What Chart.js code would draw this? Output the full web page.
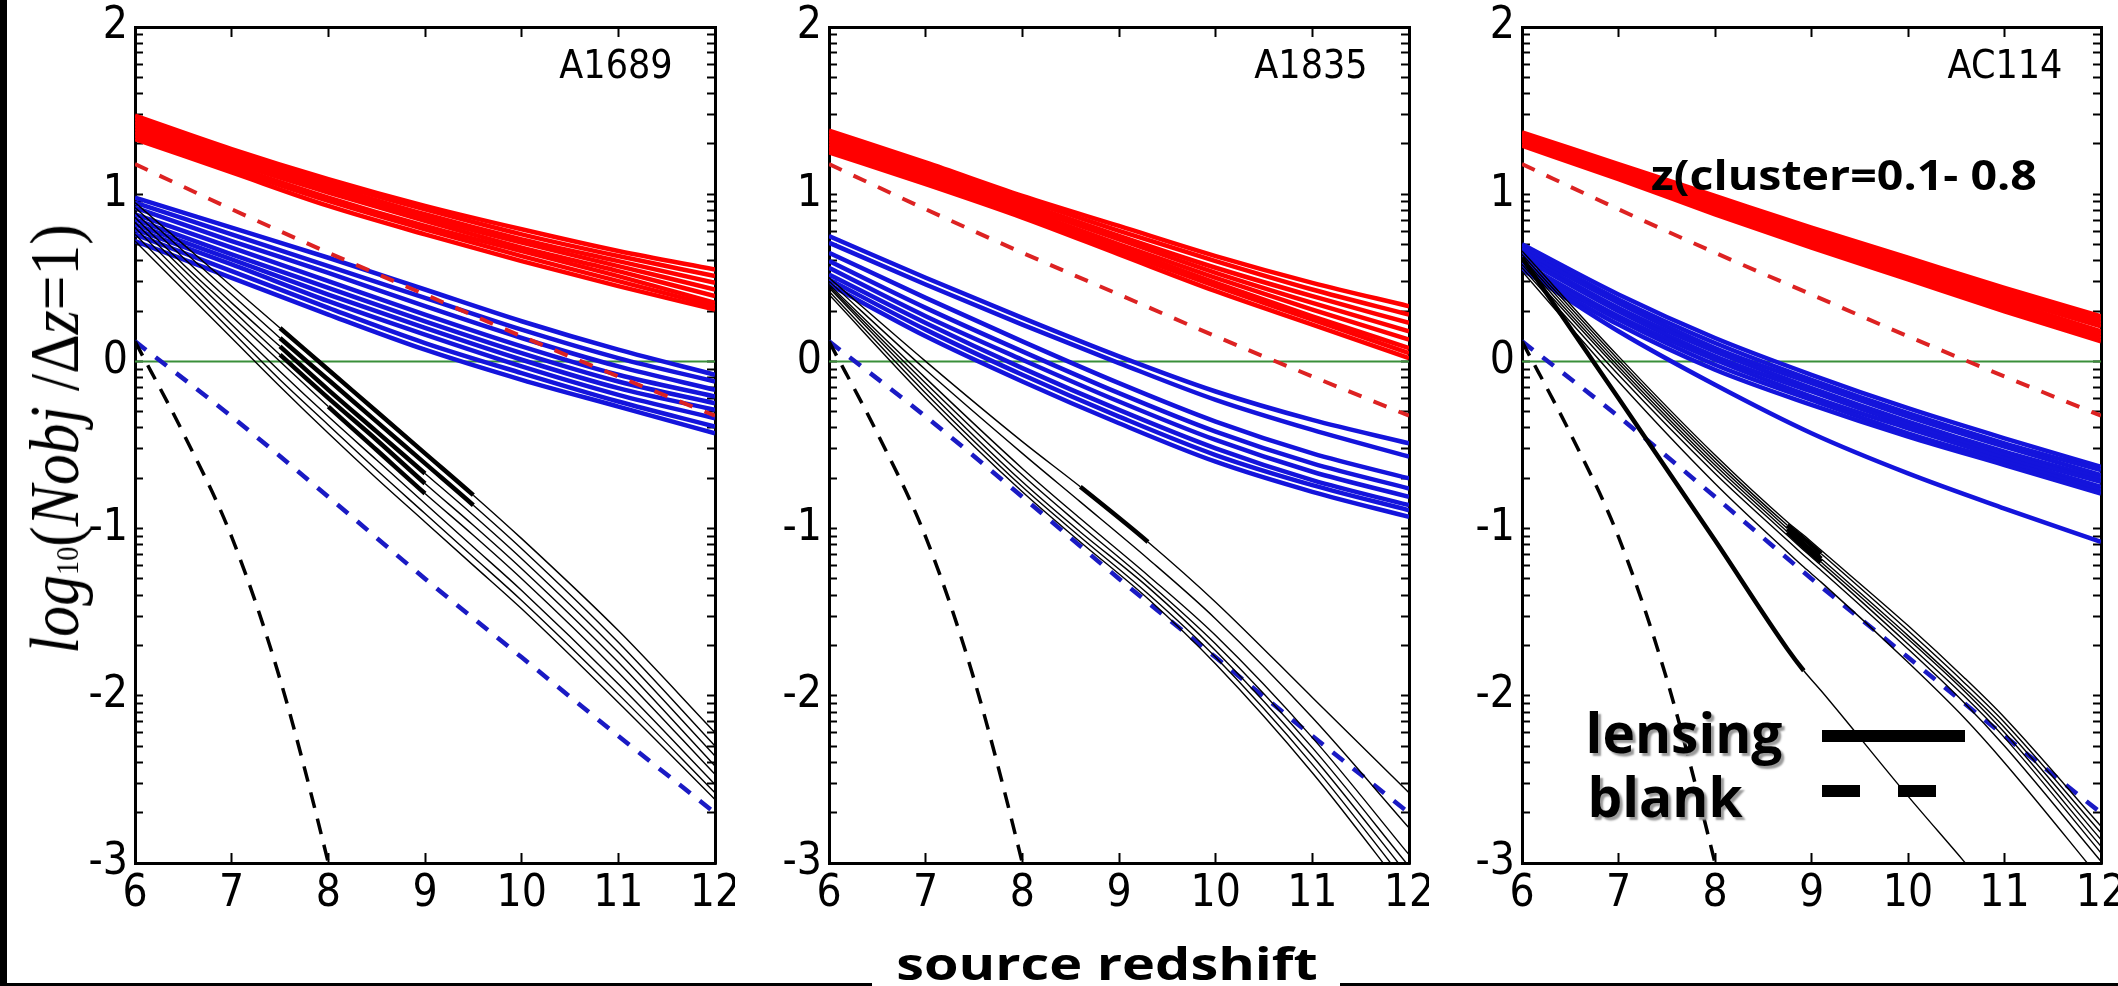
<!DOCTYPE html>
<html><head><meta charset="utf-8">
<script src="https://cdn.jsdelivr.net/npm/chart.js@4.4.1/dist/chart.umd.min.js"></script>
<style>
html,body{margin:0;padding:0;background:#fff;}
#wrap{position:relative;width:2118px;height:986px;overflow:hidden;background:#fff;}
#wrap canvas{position:absolute;top:0;z-index:1;}
.lbl{position:absolute;white-space:nowrap;line-height:1;color:#000;z-index:3;}
.narrow{font-family:'Liberation Sans Narrow','Arial Narrow','DejaVu Sans Condensed','Liberation Sans',sans-serif;}
.bold{font-family:'Open Sans','Noto Sans',sans-serif;font-weight:700;}
.blk{position:absolute;background:#000;z-index:3;}
</style></head>
<body>
<div id="wrap">
  <div class="blk" style="left:0;top:0;width:7px;height:986px"></div>
  <div class="blk" style="left:0;top:983px;width:872px;height:3px"></div>
  <div class="blk" style="left:1340px;top:983px;width:778px;height:3px"></div>

  <div class="lbl" id="ytitle" style="font-family:'Liberation Serif','DejaVu Serif',serif;font-size:70px;left:55px;top:439px;transform:translate(-50%,-50%) rotate(-90deg) scaleX(0.88);"><i>log</i><span style="font-size:0.46em">10</span>(<i>Nobj</i> /Δ<i>z</i>=1)</div>

  <div class="lbl narrow" style="font-size:39px;left:616px;top:64px;transform:translate(-50%,-50%)">A1689</div>
  <div class="lbl narrow" style="font-size:39px;left:1311px;top:64px;transform:translate(-50%,-50%)">A1835</div>
  <div class="lbl narrow" style="font-size:39px;left:2005px;top:64px;transform:translate(-50%,-50%)">AC114</div>

  <div class="lbl bold" style="font-size:41px;left:1844px;top:174px;transform:translate(-50%,-50%) scaleX(1.135)">z(cluster=0.1- 0.8</div>

  <div class="lbl bold" style="font-size:55px;left:1684px;top:731px;transform:translate(-50%,-50%);text-shadow:3px 3px 2px #9a9a9a">lensing</div>
  <div class="lbl bold" style="font-size:55px;left:1665px;top:795px;transform:translate(-50%,-50%);text-shadow:3px 3px 2px #9a9a9a">blank</div>
  <div class="blk" style="left:1822px;top:730px;width:143px;height:12px"></div>
  <div class="blk" style="left:1822px;top:785px;width:38px;height:12px"></div>
  <div class="blk" style="left:1898px;top:785px;width:38px;height:12px"></div>

  <div class="lbl bold" style="font-size:45px;left:1107px;top:962px;transform:translate(-50%,-50%) scaleX(1.24)">source redshift</div>
</div>
<script>
// ---------- axis ticks ----------
const xTicks = [6, 7, 8, 9, 10, 11, 12];
const xTickLabels = ['6', '7', '8', '9', '10', '11', '12'];
const yMajor = [-3, -2, -1, 0, 1, 2];
const yTickLabels = ['-3', '-2', '-1', '0', '1', '2'];
const yMinorFactors = [2, 3, 4, 5, 6, 7, 8, 9];

// ---------- blank field (same in every panel) ----------
const zGrid = [6, 7, 8, 9, 10, 11, 12];
const blankRed = [1.18, 0.91, 0.65, 0.40, 0.15, -0.09, -0.325];
const blankBlue = [0.12, -0.33, -0.81, -1.30, -1.77, -2.24, -2.70];
const blankBlackZ = [6, 6.5, 7, 7.5, 8, 8.2];
const blankBlack = [0.12, -0.43, -1.05, -1.90, -3.00, -3.50];
const zeroZ = [6, 12];
const zeroV = [0, 0];

// ---------- A1689 ----------
const a1689Red = [
  [1.47, 1.27, 1.09, 0.93, 0.79, 0.66, 0.55],
  [1.45, 1.25, 1.07, 0.91, 0.76, 0.63, 0.51],
  [1.43, 1.23, 1.05, 0.88, 0.73, 0.60, 0.47],
  [1.41, 1.21, 1.03, 0.86, 0.71, 0.57, 0.43],
  [1.39, 1.19, 1.01, 0.84, 0.68, 0.54, 0.39],
  [1.37, 1.17, 0.98, 0.81, 0.66, 0.51, 0.35],
  [1.35, 1.15, 0.96, 0.79, 0.63, 0.48, 0.33],
  [1.33, 1.13, 0.93, 0.76, 0.60, 0.45, 0.31]
];
const a1689Blue = [
  [0.98, 0.80, 0.62, 0.43, 0.24, 0.07, -0.08],
  [0.95, 0.76, 0.57, 0.38, 0.19, 0.02, -0.12],
  [0.92, 0.72, 0.53, 0.33, 0.14, -0.03, -0.17],
  [0.88, 0.68, 0.48, 0.28, 0.09, -0.08, -0.21],
  [0.85, 0.64, 0.44, 0.24, 0.05, -0.12, -0.25],
  [0.82, 0.61, 0.40, 0.20, 0.01, -0.16, -0.29],
  [0.79, 0.58, 0.36, 0.16, -0.03, -0.20, -0.34],
  [0.76, 0.54, 0.32, 0.11, -0.07, -0.24, -0.39],
  [0.72, 0.50, 0.28, 0.07, -0.11, -0.27, -0.43]
];
const a1689BlackZ = [6, 6.5, 7, 7.5, 8, 8.5, 9, 9.5, 10, 11, 12];
const a1689Black = [
  [0.95, 0.70, 0.45, 0.20, -0.05, -0.30, -0.55, -0.80, -1.06, -1.61, -2.22],
  [0.92, 0.66, 0.40, 0.14, -0.11, -0.36, -0.61, -0.86, -1.12, -1.68, -2.30],
  [0.89, 0.62, 0.35, 0.09, -0.17, -0.42, -0.67, -0.92, -1.18, -1.74, -2.36],
  [0.86, 0.58, 0.31, 0.04, -0.22, -0.47, -0.73, -0.98, -1.24, -1.80, -2.42],
  [0.83, 0.55, 0.27, 0.00, -0.27, -0.53, -0.79, -1.04, -1.30, -1.86, -2.47],
  [0.80, 0.51, 0.22, -0.06, -0.33, -0.59, -0.85, -1.11, -1.37, -1.93, -2.53],
  [0.76, 0.47, 0.18, -0.11, -0.38, -0.65, -0.91, -1.17, -1.43, -1.99, -2.58],
  [0.72, 0.43, 0.14, -0.15, -0.43, -0.70, -0.96, -1.22, -1.48, -2.04, -2.62]
];
const a1689Thick = [[7.5, 9.5], [7.5, 9.5], [7.5, 9.0], [7.5, 9.0], [8.0, 9.0], null, null, null];

// ---------- A1835 ----------
const a1835Red = [
  [1.38, 1.19, 0.99, 0.81, 0.63, 0.47, 0.33],
  [1.36, 1.17, 0.97, 0.78, 0.60, 0.43, 0.28],
  [1.34, 1.15, 0.95, 0.75, 0.56, 0.39, 0.23],
  [1.32, 1.13, 0.93, 0.73, 0.53, 0.35, 0.18],
  [1.30, 1.11, 0.91, 0.70, 0.50, 0.31, 0.13],
  [1.28, 1.09, 0.89, 0.68, 0.47, 0.27, 0.08],
  [1.27, 1.08, 0.88, 0.66, 0.45, 0.25, 0.05],
  [1.25, 1.06, 0.86, 0.64, 0.42, 0.22, 0.02]
];
const a1835Blue = [
  [0.75, 0.50, 0.26, 0.03, -0.18, -0.35, -0.49],
  [0.71, 0.46, 0.22, -0.01, -0.23, -0.41, -0.57],
  [0.65, 0.38, 0.12, -0.13, -0.36, -0.55, -0.70],
  [0.60, 0.32, 0.06, -0.19, -0.42, -0.61, -0.76],
  [0.56, 0.27, 0.01, -0.24, -0.47, -0.66, -0.81],
  [0.52, 0.23, -0.04, -0.29, -0.52, -0.71, -0.86],
  [0.49, 0.19, -0.08, -0.33, -0.56, -0.74, -0.89],
  [0.46, 0.15, -0.12, -0.37, -0.60, -0.78, -0.93]
];
const a1835BlackZ = [6, 7, 8, 8.6, 9.3, 10, 11, 12];
const a1835Black = [
  [0.50, 0.00, -0.48, -0.75, -1.08, -1.44, -2.01, -2.58],
  [0.48, -0.05, -0.55, -0.84, -1.18, -1.54, -2.13, -2.79],
  [0.46, -0.10, -0.64, -0.94, -1.28, -1.64, -2.25, -2.95],
  [0.45, -0.13, -0.68, -0.98, -1.32, -1.69, -2.31, -3.02],
  [0.44, -0.16, -0.72, -1.02, -1.35, -1.73, -2.36, -3.08],
  [0.42, -0.19, -0.75, -1.05, -1.39, -1.77, -2.41, -3.14],
  [0.40, -0.22, -0.78, -1.08, -1.42, -1.81, -2.46, -3.20]
];
const a1835Thick = [[8.6, 9.3], null, null, null, null, null, null];

// ---------- AC114 ----------
const ac114Red = [
  [1.37, 1.18, 0.99, 0.80, 0.62, 0.44, 0.27],
  [1.36, 1.17, 0.97, 0.78, 0.60, 0.42, 0.25],
  [1.35, 1.15, 0.96, 0.77, 0.58, 0.40, 0.23],
  [1.34, 1.14, 0.94, 0.75, 0.56, 0.38, 0.21],
  [1.33, 1.13, 0.93, 0.73, 0.54, 0.36, 0.18],
  [1.32, 1.11, 0.91, 0.72, 0.53, 0.34, 0.16],
  [1.30, 1.10, 0.90, 0.70, 0.51, 0.32, 0.14],
  [1.29, 1.09, 0.88, 0.68, 0.49, 0.30, 0.12]
];
const ac114Blue = [
  [0.70, 0.40, 0.14, -0.08, -0.28, -0.46, -0.63],
  [0.68, 0.37, 0.11, -0.11, -0.31, -0.49, -0.65],
  [0.66, 0.35, 0.08, -0.13, -0.33, -0.51, -0.68],
  [0.64, 0.32, 0.06, -0.16, -0.36, -0.54, -0.70],
  [0.62, 0.30, 0.03, -0.18, -0.38, -0.56, -0.72],
  [0.59, 0.27, 0.01, -0.21, -0.40, -0.58, -0.75],
  [0.57, 0.25, -0.02, -0.23, -0.43, -0.60, -0.77],
  [0.55, 0.22, -0.05, -0.26, -0.45, -0.62, -0.79],
  [0.55, 0.18, -0.14, -0.43, -0.67, -0.88, -1.08]
];
const ac114BlackZ = [6, 7, 8, 8.75, 8.92, 9.1, 10, 10.58, 11, 12];
const ac114Black = [
  [0.62, -0.22, -1.07, -1.72, -1.85, -1.97, -2.60, -2.99, -3.28, -3.98],
  [0.66, 0.03, -0.56, -0.96, -1.04, -1.13, -1.58, -1.89, -2.13, -2.78],
  [0.64, 0.01, -0.58, -0.98, -1.06, -1.15, -1.61, -1.92, -2.16, -2.82],
  [0.62, -0.01, -0.60, -1.00, -1.09, -1.18, -1.64, -1.95, -2.19, -2.86],
  [0.60, -0.03, -0.62, -1.02, -1.11, -1.20, -1.66, -1.97, -2.22, -2.90],
  [0.58, -0.05, -0.64, -1.04, -1.13, -1.22, -1.69, -2.00, -2.25, -2.94],
  [0.56, -0.08, -0.67, -1.07, -1.16, -1.25, -1.72, -2.04, -2.30, -2.99],
  [0.54, -0.12, -0.73, -1.14, -1.23, -1.32, -1.80, -2.13, -2.40, -3.10]
];
const ac114Thick = [[6, 8.92], null, [8.75, 9.1], [8.75, 9.1], [8.75, 9.1], null, null, null];

// ---------- styling / layout ----------
const COL_RED = '#ff0000', COL_RED_D = '#dd2222';
const COL_BLUE = '#1414dc', COL_BLUE_D = '#1a1ac4';
const COL_GREEN = '#3a8f3a';
const TICK_FONT = {family: "'Liberation Sans Narrow','Arial Narrow','DejaVu Sans Condensed','Liberation Sans',sans-serif", size: 44};
const PLOT_TOP = 27, PLOT_BOTTOM = 863, CANVAS_H = 935, LEFT_M = 100, RIGHT_M = 20;

const panels = [
  {left: 135, width: 580, red: a1689Red, blue: a1689Blue, blackZ: a1689BlackZ, black: a1689Black, thick: a1689Thick},
  {left: 829, width: 580, red: a1835Red, blue: a1835Blue, blackZ: a1835BlackZ, black: a1835Black, thick: a1835Thick},
  {left: 1522, width: 579, red: ac114Red, blue: ac114Blue, blackZ: ac114BlackZ, black: ac114Black, thick: ac114Thick}
];

function pts(zs, vs) { return zs.map((z, i) => ({x: z, y: vs[i]})); }

const yTickValues = yMajor.slice();
for (let n = -3; n < 2; n++) yMinorFactors.forEach(k => yTickValues.push(n + Math.log10(k)));
yTickValues.sort((a, b) => a - b);

function zeroPad(s) { s.paddingLeft = 0; s.paddingRight = 0; s.paddingTop = 0; s.paddingBottom = 0; }

function lineDs(data, color, width, dash) {
  return {data, borderColor: color, borderWidth: width, borderDash: dash || [], fill: false,
          pointRadius: 0, clip: 0, cubicInterpolationMode: 'monotone'};
}

function buildDatasets(p) {
  const ds = [];
  ds.push(lineDs(pts(zeroZ, zeroV), COL_GREEN, 2));
  p.red.forEach(v => ds.push(lineDs(pts(zGrid, v), COL_RED, 4.5)));
  p.blue.forEach(v => ds.push(lineDs(pts(zGrid, v), COL_BLUE, 4.5)));
  ds.push(lineDs(pts(zGrid, blankRed), COL_RED_D, 4, [14, 13]));
  ds.push(lineDs(pts(zGrid, blankBlue), COL_BLUE_D, 4.5, [14, 12]));
  ds.push(lineDs(pts(blankBlackZ, blankBlack), '#000', 3.5, [16, 11]));
  p.black.forEach((v, i) => {
    const th = p.thick[i];
    const d = lineDs(pts(p.blackZ, v), '#000', 1.4);
    d.segment = {borderWidth: c => (th && c.p0.parsed.x >= th[0] - 1e-9 && c.p1.parsed.x <= th[1] + 1e-9) ? 4.5 : 1.4};
    ds.push(d);
  });
  return ds.reverse(); // first dataset is drawn on top in Chart.js
}

const wrap = document.getElementById('wrap');
panels.forEach(p => {
  const cv = document.createElement('canvas');
  const W = LEFT_M + p.width + RIGHT_M;
  cv.width = W; cv.height = CANVAS_H;
  cv.style.width = W + 'px'; cv.style.height = CANVAS_H + 'px';
  cv.style.left = (p.left - LEFT_M) + 'px';
  wrap.appendChild(cv);
  const yAxisCommon = {
    type: 'linear', min: -3, max: 2,
    afterBuildTicks: s => { s.ticks = yTickValues.map(v => ({value: v})); },
    grid: {drawOnChartArea: false, drawTicks: true, tickLength: -8, tickWidth: 2, tickColor: '#000'},
    border: {display: true, width: 3, color: '#000'}
  };
  const xAxisCommon = {
    type: 'linear', min: 6, max: 12,
    afterBuildTicks: s => { s.ticks = xTicks.map(v => ({value: v})); },
    grid: {drawOnChartArea: false, drawTicks: true, tickLength: -10, tickWidth: 2, tickColor: '#000'},
    border: {display: true, width: 3, color: '#000'}
  };
  new Chart(cv, {
    type: 'line',
    data: {datasets: buildDatasets(p)},
    options: {
      responsive: false, animation: false, devicePixelRatio: 1, events: [],
      layout: {padding: {top: PLOT_TOP, right: RIGHT_M, left: 0, bottom: 0}},
      plugins: {legend: {display: false}, tooltip: {enabled: false}},
      scales: {
        x: Object.assign({}, xAxisCommon, {
          position: 'bottom',
          ticks: {autoSkip: false, maxRotation: 0, padding: 15, color: '#000', font: TICK_FONT,
                  callback: v => { const i = xTicks.indexOf(v); return i >= 0 ? xTickLabels[i] : ''; }},
          afterFit: s => { s.height = CANVAS_H - PLOT_BOTTOM; zeroPad(s); }
        }),
        x2: Object.assign({}, xAxisCommon, {
          position: 'top', ticks: {display: false},
          afterFit: s => { s.height = 0; zeroPad(s); }
        }),
        y: Object.assign({}, yAxisCommon, {
          position: 'left',
          ticks: {autoSkip: false, padding: 15, color: '#000', font: TICK_FONT,
                  callback: v => { const i = yMajor.indexOf(v); return i >= 0 ? yTickLabels[i] : ''; }},
          afterFit: s => { s.width = LEFT_M; zeroPad(s); }
        }),
        y2: Object.assign({}, yAxisCommon, {
          position: 'right', ticks: {display: false},
          afterFit: s => { s.width = 0; zeroPad(s); }
        })
      }
    }
  });
});
</script>
</body></html>
